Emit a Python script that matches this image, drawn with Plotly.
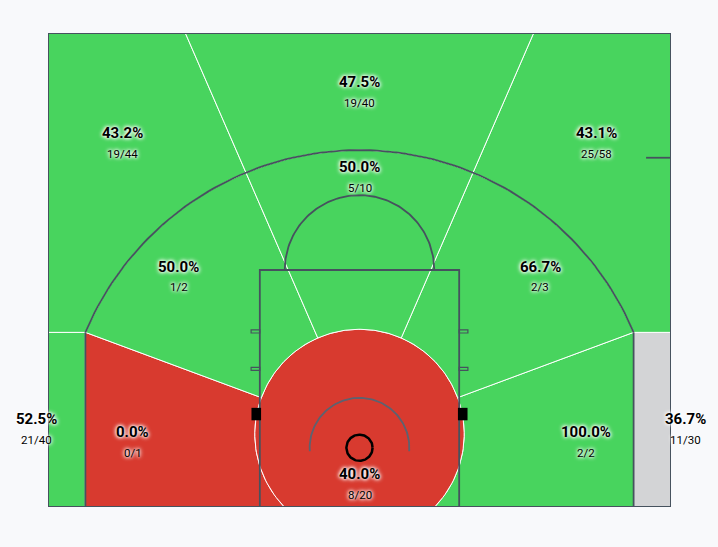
import numpy as np
import plotly.graph_objects as go

# shot zones: makes / attempts
zones = ["Left Corner 3", "Right Corner 3", "Left Baseline 2", "Right Baseline 2",
         "Restricted Area", "Left Wing 2", "Right Wing 2", "Top 2",
         "Left Wing 3", "Right Wing 3", "Top 3"]
made = [21, 11, 0, 2, 8, 1, 2, 5, 19, 25, 19]
attempts = [40, 30, 1, 2, 20, 2, 3, 10, 44, 58, 40]
rating = ["hot", "even", "cold", "hot", "cold", "hot", "hot", "hot", "hot", "hot", "hot"]

COLORS = {"hot": "#48d45e", "cold": "#d83a2f", "even": "#d3d4d6"}
LINE = "#46525e"
BG = "#f8f9fb"

# label anchors (court units, basket at 0,0) + pixel nudge for the corner labels
label_pos = {
    "Left Corner 3": (-250, 23, -12), "Right Corner 3": (250, 23, 14),
    "Left Baseline 2": (-182, 12.5, 0), "Right Baseline 2": (182, 12.5, 0),
    "Restricted Area": (0, -21, 0), "Left Wing 2": (-145, 145, 0),
    "Right Wing 2": (145, 145, 0), "Top 2": (0, 225, 0),
    "Left Wing 3": (-190, 252, 0), "Right Wing 3": (190, 252, 0), "Top 3": (0, 293, 0),
}

# court geometry
X0, X1, Y0, Y1 = -250, 250, -47.5, 332.5
CX, CY = 0.0, 11.0          # point the zone rays fan out from
R_IN = 84.0                 # inner (close range) circle
CORNER_X, CORNER_Y = 220.0, 92.5
R3 = np.hypot(CORNER_X, CORNER_Y)
TH_LOW = np.degrees(np.arctan2(CORNER_Y - CY, CORNER_X))
TH_UP = 66.5
TH_BOT = np.degrees(np.arcsin((Y0 - CY) / R_IN))


def unit(th):
    return np.cos(np.radians(th)), np.sin(np.radians(th))


def inner_arc(a, b, n=60):
    t = np.radians(np.linspace(a, b, n))
    return list(CX + R_IN * np.cos(t)), list(CY + R_IN * np.sin(t))


def three_arc(a, b, n=80):
    t = np.radians(np.linspace(a, b, n))
    return list(R3 * np.cos(t)), list(R3 * np.sin(t))


def arc_hit(th):
    ux, uy = unit(th)
    b = CX * ux + CY * uy
    r = -b + np.sqrt(b * b - (CX ** 2 + CY ** 2) + R3 ** 2)
    return CX + r * ux, CY + r * uy


def top_hit(th):
    ux, uy = unit(th)
    r = (Y1 - CY) / uy
    return CX + r * ux, Y1


PHI_C = np.degrees(np.arctan2(CORNER_Y, CORNER_X))
hx, hy = arc_hit(TH_UP)
PHI_U = np.degrees(np.arctan2(hy, hx))
tx, ty = top_hit(TH_UP)


def right_side_polys():
    polys = {}
    polys["Right Corner 3"] = ([CORNER_X, X1, X1, CORNER_X], [Y0, Y0, CORNER_Y, CORNER_Y])
    ax, ay = inner_arc(TH_LOW, TH_BOT)
    polys["Right Baseline 2"] = ([CORNER_X, CORNER_X] + ax, [Y0, CORNER_Y] + ay)
    bx, by = three_arc(PHI_C, PHI_U)
    ix, iy = inner_arc(TH_UP, TH_LOW)
    polys["Right Wing 2"] = ([CORNER_X] + bx + ix, [CORNER_Y] + by + iy)
    polys["Right Wing 3"] = ([X1, CORNER_X] + bx + [tx, X1], [CORNER_Y, CORNER_Y] + by + [ty, Y1])
    return polys


polys = right_side_polys()
for k in list(polys):
    xs, ys = polys[k]
    polys[k.replace("Right", "Left")] = ([-v for v in xs], ys)

rx, ry = inner_arc(TH_BOT, 180 - TH_BOT, 120)
polys["Restricted Area"] = (rx, ry)
ax, ay = inner_arc(TH_UP, 180 - TH_UP)
bx, by = three_arc(180 - PHI_U, PHI_U)
polys["Top 2"] = (ax + bx, ay + by)
cx_, cy_ = three_arc(PHI_U, 180 - PHI_U)
polys["Top 3"] = (cx_ + [-tx, tx], cy_ + [ty, ty])

fig = go.Figure()

for z, r in zip(zones, rating):
    xs, ys = polys[z]
    fig.add_trace(go.Scatter(x=xs + [xs[0]], y=ys + [ys[0]], fill="toself",
                             fillcolor=COLORS[r], mode="lines",
                             line=dict(color="white", width=1), hoverinfo="skip"))


def court_line(x, y, color=LINE, width=1.8):
    fig.add_trace(go.Scatter(x=x, y=y, mode="lines", line=dict(color=color, width=width),
                             hoverinfo="skip"))


def arc(cx, cy, r, a, b, n=100):
    t = np.radians(np.linspace(a, b, n))
    return list(cx + r * np.cos(t)), list(cy + r * np.sin(t))


# three point line
court_line([-CORNER_X, -CORNER_X], [Y0, CORNER_Y])
court_line([CORNER_X, CORNER_X], [Y0, CORNER_Y])
court_line(*arc(0, 0, R3, PHI_C, 180 - PHI_C))
# paint + free throw half circle
court_line([-80, -80, 80, 80], [Y0, 142.5, 142.5, Y0])
court_line(*arc(0, 142.5, 60, 0, 180))
# restricted arc
court_line(*arc(0, 0, 40, -4, 184), color="#5c6270")
# coaching box tick
court_line([230, 250], [232.5, 232.5])
# hoop
court_line(*arc(0, 0, 10.5, 0, 360), color="black", width=2.5)

shapes = [dict(type="rect", x0=X0, x1=X1, y0=Y0, y1=Y1, line=dict(color=LINE, width=2))]
for s in (-1, 1):
    for yy in (62, 92):
        shapes.append(dict(type="rect", x0=s * 80, x1=s * 87, y0=yy, y1=yy + 2.5,
                           line=dict(color=LINE, width=1.2)))
    shapes.append(dict(type="rect", x0=s * 79, x1=s * 86.7, y0=22, y1=32,
                       fillcolor="black", line=dict(width=0)))

# zone labels
glow = "0px 0px 4px #ffffff, 0px 0px 5px #ffffff, 0px 0px 3px #ffffff"
annotations = []
for z, m, a in zip(zones, made, attempts):
    x, y, dx = label_pos[z]
    annotations.append(dict(x=x, y=y, xref="x", yref="y", xshift=dx,
                            text=f"{100 * m / a:.1f}%", showarrow=False,
                            font=dict(family="Roboto", size=15, color="black",
                                      weight="bold", shadow=glow)))
    annotations.append(dict(x=x, y=y - 16.5, xref="x", yref="y", xshift=dx,
                            text=f"{m}/{a}", showarrow=False,
                            font=dict(family="Roboto", size=11.5, color="black", shadow=glow)))

fig.update_layout(
    width=718, height=547,
    margin=dict(l=48, r=47, t=33, b=40),
    paper_bgcolor=BG, plot_bgcolor=BG,
    showlegend=False, shapes=shapes, annotations=annotations,
    xaxis=dict(range=[X0, X1], visible=False, fixedrange=True),
    yaxis=dict(range=[Y0, Y1], visible=False, fixedrange=True),
)

fig.write_html("out.html", config={"displayModeBar": False},
               post_script=f"document.body.style.margin='0';document.body.style.background='{BG}';")
